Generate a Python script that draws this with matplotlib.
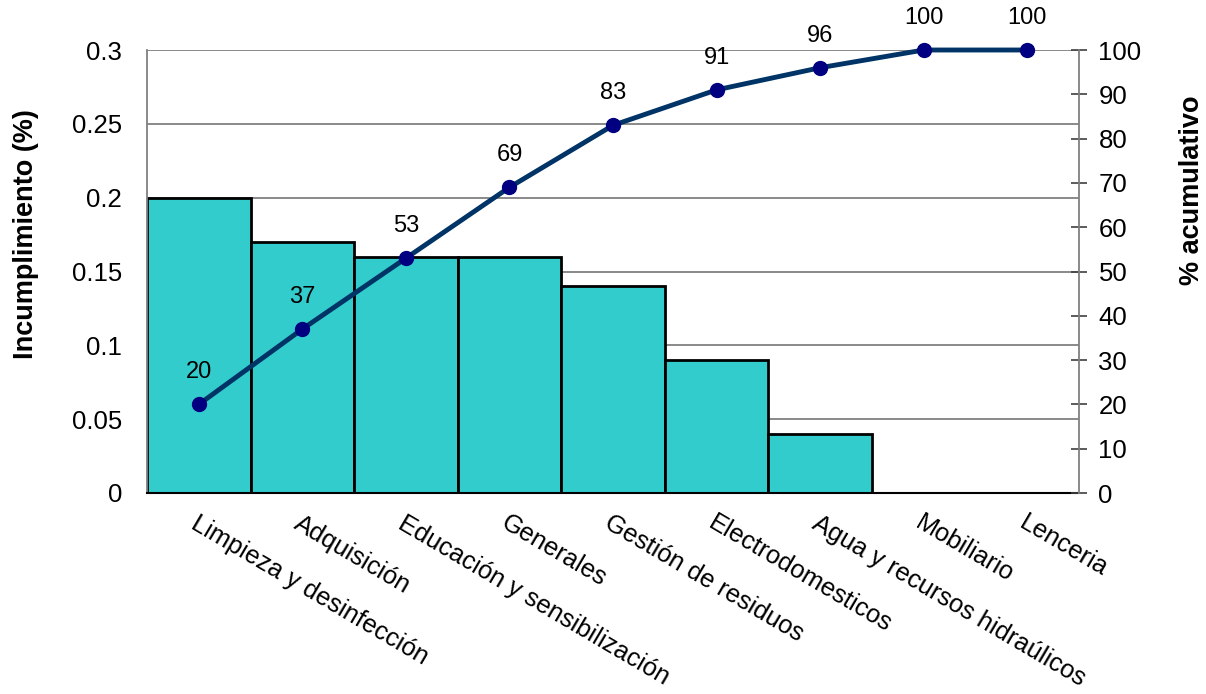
import matplotlib
matplotlib.use("Agg")
import matplotlib.pyplot as plt
import numpy as np

plt.rcParams['font.family'] = ['Liberation Sans', 'DejaVu Sans']

categories = ["Limpieza y desinfección", "Adquisición", "Educación y sensibilización",
              "Generales", "Gestión de residuos", "Electrodomesticos",
              "Agua y recursos hidraúlicos", "Mobiliario", "Lenceria"]
incumplimiento = [0.20, 0.17, 0.16, 0.16, 0.14, 0.09, 0.04, 0.0, 0.0]
acumulativo = [20, 37, 53, 69, 83, 91, 96, 100, 100]
left_ticks = [0, 0.05, 0.1, 0.15, 0.2, 0.25, 0.3]
left_tick_labels = ["0", "0.05", "0.1", "0.15", "0.2", "0.25", "0.3"]
right_ticks = [0, 10, 20, 30, 40, 50, 60, 70, 80, 90, 100]

fig = plt.figure(figsize=(12.06, 6.94), dpi=100)
ax = fig.add_axes([147/1206, 1 - 493/694, (1079-147)/1206, (493-50)/694])
x = np.arange(len(categories))

ax.bar(x, incumplimiento, width=1.0, color="#33CCCC", edgecolor="black", linewidth=2, zorder=2)
ax.set_xlim(-0.5, len(categories) - 0.5)
ax.set_ylim(0, 0.3)
ax.set_yticks(left_ticks)
ax.set_yticklabels(left_tick_labels)
ax.grid(axis='y', color="#808080", linewidth=1.3, zorder=0)
ax.set_axisbelow(True)
ax.tick_params(axis='y', length=0, pad=18, labelsize=18.5)
ax.tick_params(axis='x', length=0, pad=13, labelsize=18.3)
ax.set_xticks(x)
ax.set_xticklabels(categories, rotation=-30.5, ha='left', va='top', rotation_mode='anchor')
ax.spines['top'].set_visible(False)
ax.spines['right'].set_visible(False)
ax.spines['left'].set_color("#808080")
ax.spines['left'].set_linewidth(1.3)
ax.spines['bottom'].set_color("black")
ax.spines['bottom'].set_linewidth(1.5)
ax.set_ylabel("Incumplimiento (%)", fontsize=19.5, fontweight='bold')
ax.yaxis.set_label_coords(-0.116, 0.585)

ax2 = ax.twinx()
ax2.set_ylim(0, 100)
ax2.set_yticks(right_ticks)
ax2.plot(x, acumulativo, color="#003366", linewidth=3.5, marker='o', markersize=10,
         markerfacecolor="#000080", markeredgecolor="#000080", zorder=3, clip_on=False)
for xi, v in zip(x, acumulativo):
    ax2.annotate(str(v), (xi, v), xytext=(0, 23), textcoords='offset points',
                 ha='center', va='center', fontsize=17, annotation_clip=False)
ax2.tick_params(axis='y', direction='inout', length=12, width=1.2, color="#404040",
                pad=8, labelsize=18.5)
for s in ['top', 'left', 'bottom']:
    ax2.spines[s].set_visible(False)
ax2.spines['right'].set_color("#808080")
ax2.spines['right'].set_linewidth(1.3)
ax2.set_ylabel("% acumulativo", fontsize=19.5, fontweight='bold')
ax2.yaxis.set_label_coords(1.107, 0.684)

fig.savefig("out.png", dpi=100)
